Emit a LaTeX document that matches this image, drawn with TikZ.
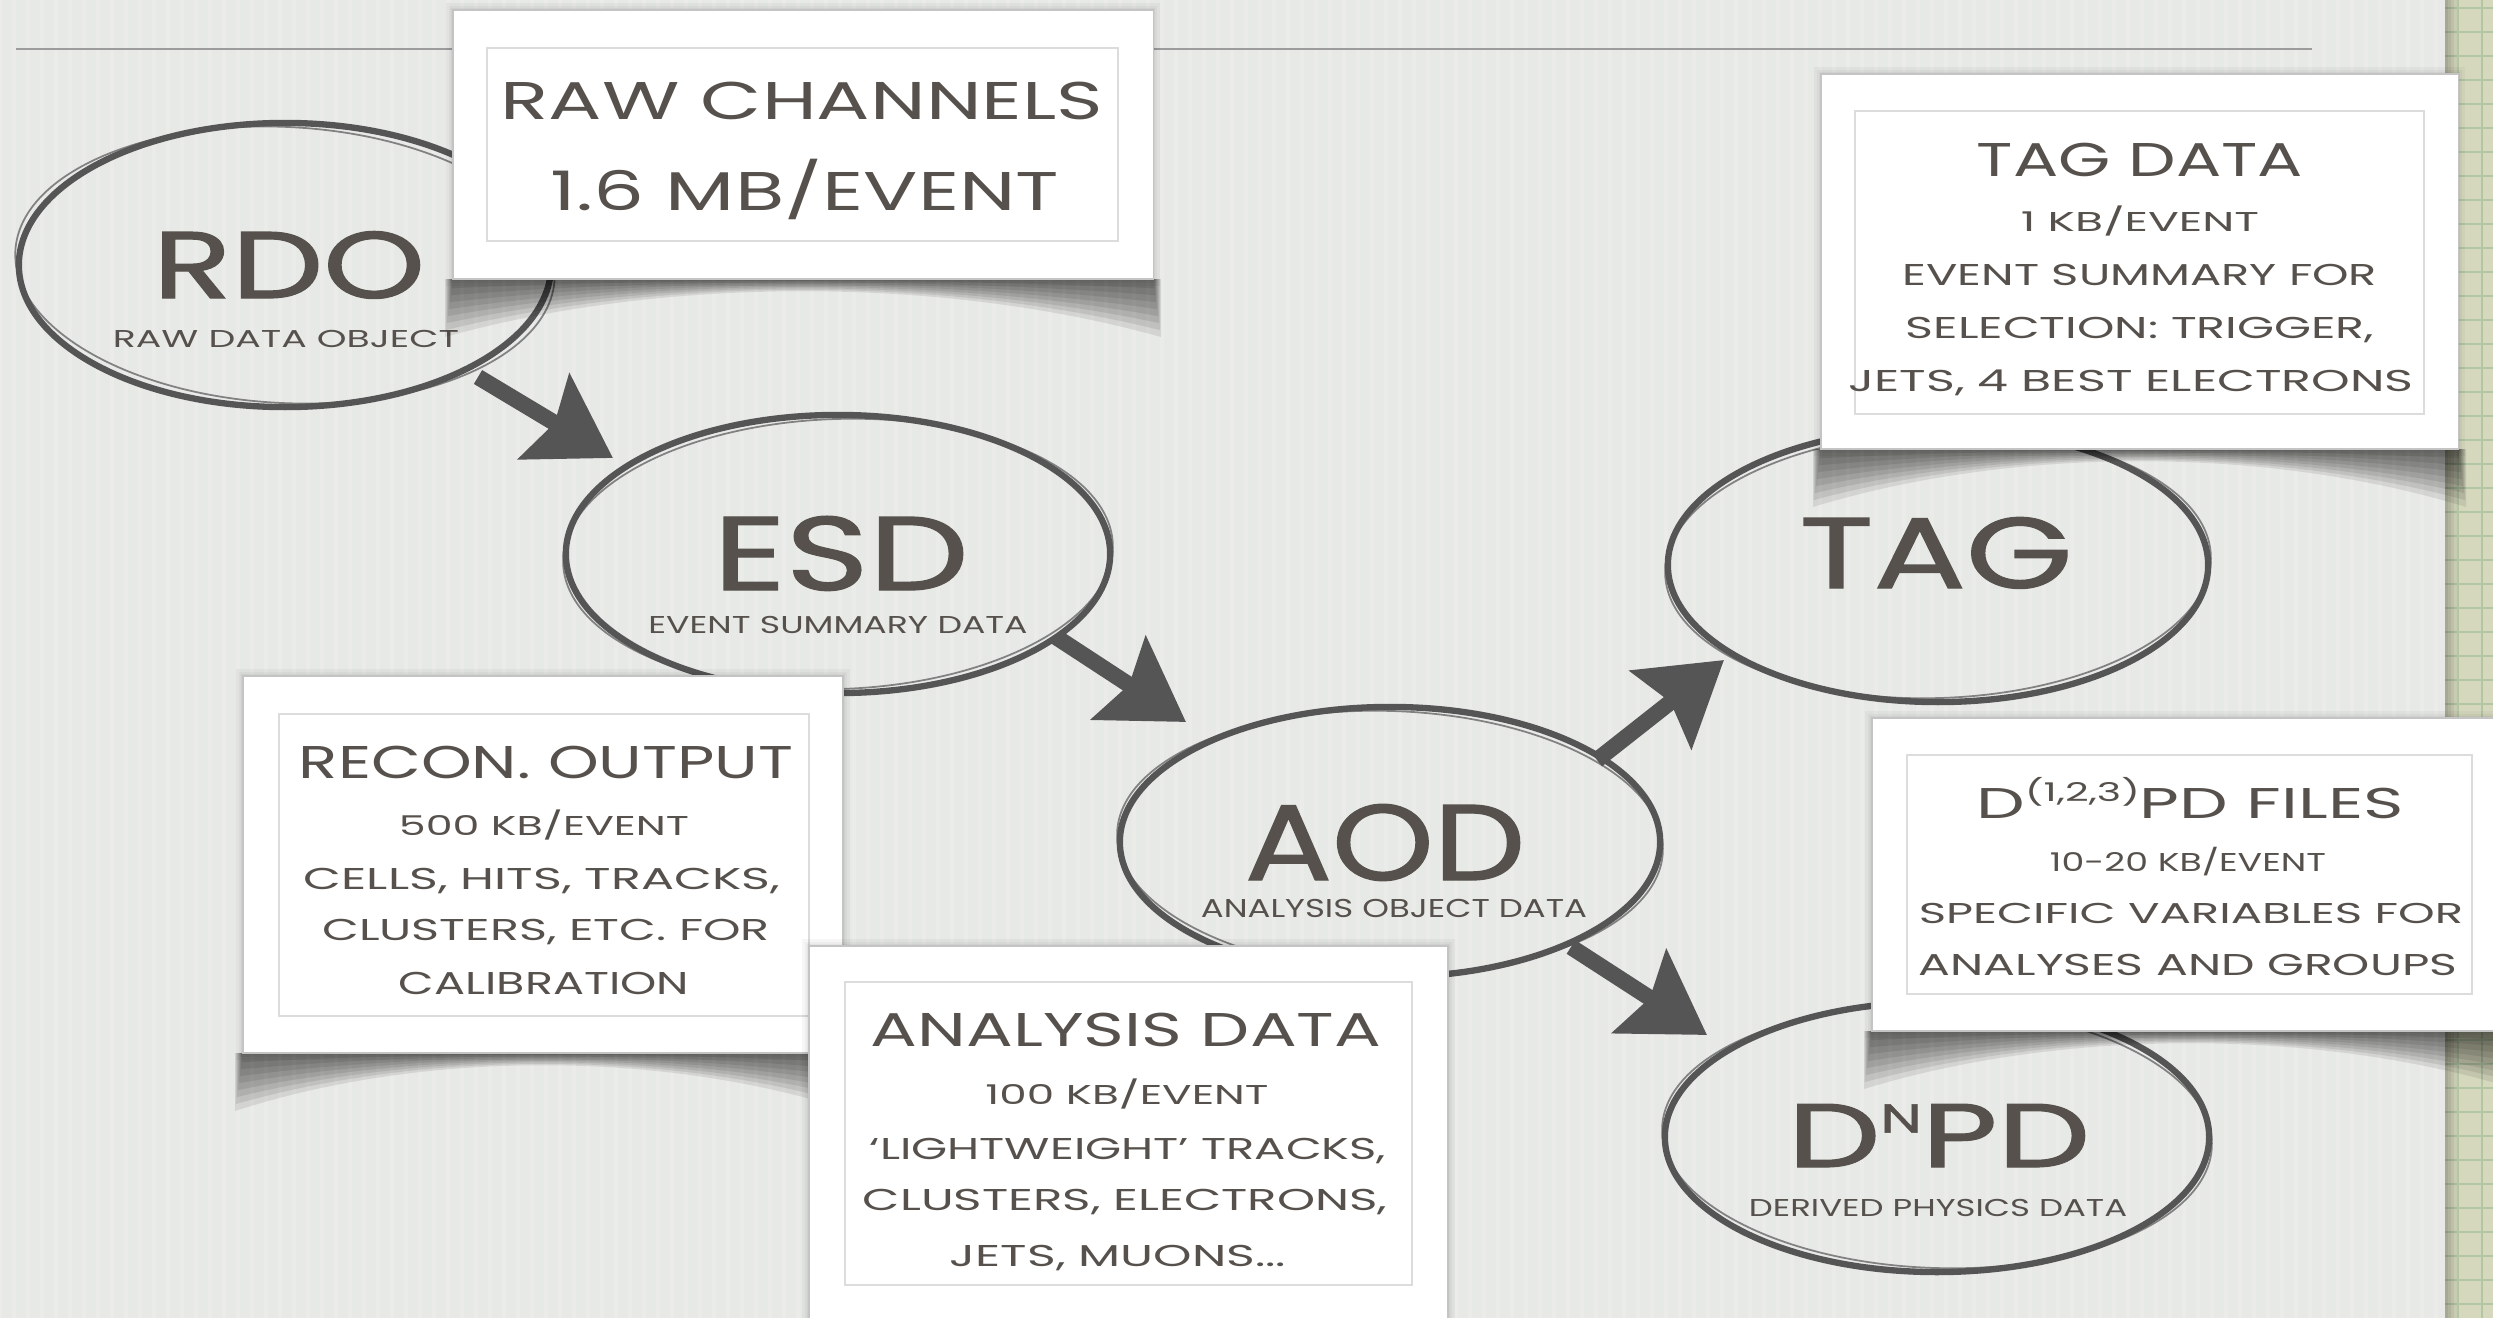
\documentclass[tikz,border=0pt]{standalone}
\usepackage{fontspec}
\setmainfont{Poppins}
\newfontfamily\heavy{Poppins}[FakeBold=1.2]
\usepackage{graphicx}
\usetikzlibrary{shapes.geometric,arrows.meta}

\definecolor{paper}{HTML}{E7E9E6}
\definecolor{ink}{HTML}{56514C}
\definecolor{brush}{HTML}{555555}
\definecolor{rulegray}{HTML}{9C9C9C}
\definecolor{gridpaper}{HTML}{D6D8BE}
\definecolor{gridline}{HTML}{B2C6A4}
\definecolor{cardedge}{HTML}{C4C4C4}
\definecolor{framegray}{HTML}{DCDCDC}

% scale a line of capitals to a given width and cap height (both in cm)
\newcommand\fitt[3]{\resizebox{#1cm}{#2cm}{\raisebox{0pt}[\fontcharht\font`\H][0pt]{#3}}}

% curled-paper shadow under a card: left, right, bottom
\newcommand\curl[3]{%
  \foreach \f in {1,0.88,0.76,0.64,0.52,0.4,0.28,0.16}{%
    \fill[black, opacity=0.085]
      ({#1-8*\f},#3) -- ({#1-8*\f},{#3+58*\f})
      .. controls ({#1+0.3*(#2-#1)},{#3-3*\f}) and ({#1+0.7*(#2-#1)},{#3-3*\f})
      .. ({#2+8*\f},{#3+58*\f}) -- ({#2+8*\f},#3) -- cycle;
  }}

% soft halo round a card: left, top, right, bottom
\newcommand\halo[4]{%
  \foreach \g in {2,4,7}{%
    \fill[black, opacity=0.035] ({#1-\g},{#2-\g}) rectangle ({#3+\g},{#4+\g});
  }}

\tikzset{
  card/.style={rectangle, fill=white, draw=cardedge, line width=0.4pt, inner sep=0pt},
  cardframe/.style={rectangle, draw=framegray, line width=0.6pt, inner sep=0pt},
  oval/.style={ellipse, draw=brush, line width=1.8pt, inner sep=0pt},
  sketch/.style={draw=brush, line width=0.5pt, opacity=0.7},
  txt/.style={anchor=base, inner sep=0pt, text=ink},
  title/.style={anchor=base, inner sep=0pt, text=ink, font=\heavy},
  flow/.style={draw=brush, line width=4.6pt, -{Stealth[length=0.8cm,width=0.98cm,inset=0.12cm]}},
}

\begin{document}
\begin{tikzpicture}[x=0.01cm, y=-0.01cm]
\useasboundingbox (0,0) rectangle (2493,1318);

% paper
\fill[paper] (0,0) rectangle (2493,1318);
\foreach \x in {0,14,...,2440}
  \draw[white, opacity=0.18, line width=1.2pt] (\x,0) -- (\x,1318);

% graph-paper strip on the right
\fill[gridpaper] (2445,0) rectangle (2493,1318);
\foreach \y in {8,32,...,1318}
  \draw[gridline, line width=0.5pt] (2445,\y) -- (2493,\y);
\foreach \x in {2458,2482}
  \draw[gridline, line width=0.5pt] (\x,0) -- (\x,1318);
\foreach \w in {3,6,9,12}
  \fill[black, opacity=0.06] (2445,0) rectangle ({2445+\w},1318);

% header rule
\draw[rulegray, line width=0.8pt] (16,49) -- (2312,49);

% data formats
\node[oval, minimum width=5.32cm, minimum height=2.84cm] (rdo) at (285,265) {};
\node[oval, minimum width=5.44cm, minimum height=2.78cm] (esd) at (838,554) {};
\node[oval, minimum width=5.40cm, minimum height=2.70cm] (aod) at (1390,842) {};
\node[oval, minimum width=5.40cm, minimum height=2.74cm] (tag) at (1938,565) {};
\node[oval, minimum width=5.44cm, minimum height=2.70cm] (dpd) at (1937,1137) {};
\draw[sketch, rotate around={-3:(rdo.center)}] (rdo.center) ellipse [x radius=270, y radius=138];
\draw[sketch, rotate around={2:(esd.center)}] (esd.center) ellipse [x radius=275, y radius=135];
\draw[sketch, rotate around={-2:(aod.center)}] (aod.center) ellipse [x radius=273, y radius=131];
\draw[sketch, rotate around={2:(tag.center)}] (tag.center) ellipse [x radius=273, y radius=133];
\draw[sketch, rotate around={-2:(dpd.center)}] (dpd.center) ellipse [x radius=275, y radius=131];

% processing arrows
\coordinate (a1s) at (478,377);  \coordinate (a1e) at (613,458);
\coordinate (a2s) at (1056,637); \coordinate (a2e) at (1186,722);
\coordinate (a3s) at (1597,760); \coordinate (a3e) at (1724,660);
\coordinate (a4s) at (1571,947); \coordinate (a4e) at (1707,1035);
\draw[flow] (a1s) -- (a1e);
\draw[flow] (a2s) -- (a2e);
\draw[flow] (a3s) -- (a3e);
\draw[flow] (a4s) -- (a4e);

% titles inside the ovals
\node[title] (rdoT) at (289,298) {\fitt{2.72}{0.66}{RDO}};
\node[txt]   (rdoL) at (286,347) {\fitt{3.46}{0.17}{RAW DATA OBJECT}};

\node[title] (esdT) at (841,590) {\fitt{2.55}{0.73}{ESD}};
\node[txt]   (esdL) at (838,633) {\fitt{3.79}{0.17}{EVENT SUMMARY DATA}};

\node[title] (aodT) at (1385,880) {\fitt{2.80}{0.75}{AOD}};
\node[txt]   (aodL) at (1394,917) {\fitt{3.86}{0.18}{ANALYSIS OBJECT DATA}};

\node[title] (tagT) at (1936,588) {\fitt{2.73}{0.70}{TAG}};

\node[title] (dpdT) at (1939,1167) {\fitt{3.02}{0.63}{D\raisebox{0.38em}{\scalebox{0.45}{N}}PD}};
\node[txt]   (dpdL) at (1938,1216) {\fitt{3.78}{0.17}{DERIVED PHYSICS DATA}};

% raw channels card
\curl{453}{1153}{279}
\halo{453}{10}{1153}{279}
\node[card, minimum width=7.00cm, minimum height=2.69cm] (rawC) at (803,144.5) {};
\node[cardframe, minimum width=6.31cm, minimum height=1.93cm] (rawF) at (802.5,144.5) {};
\node[txt] (raw1) at (802,119) {\fitt{6.02}{0.37}{RAW CHANNELS}};
\node[txt] (raw2) at (805,210) {\fitt{5.08}{0.38}{1.6 MB/EVENT}};

% reconstruction output card
\curl{243}{843}{1053}
\halo{243}{676}{843}{1053}
\node[card, minimum width=6.00cm, minimum height=3.77cm] (recC) at (543,864.5) {};
\node[cardframe, minimum width=5.30cm, minimum height=3.02cm] (recF) at (544,865) {};
\node[txt] (rec1) at (546,778) {\fitt{4.94}{0.32}{RECON. OUTPUT}};
\node[txt] (rec2) at (544,835) {\fitt{2.90}{0.19}{500 KB/EVENT}};
\node[txt] (rec3) at (542,889) {\fitt{4.76}{0.21}{CELLS, HITS, TRACKS,}};
\node[txt] (rec4) at (546,940) {\fitt{4.47}{0.21}{CLUSTERS, ETC. FOR}};
\node[txt] (rec5) at (544,994) {\fitt{2.90}{0.22}{CALIBRATION}};

% analysis data card
\halo{809}{946}{1448}{1340}
\node[card, minimum width=6.39cm, minimum height=3.84cm] (anaC) at (1128.5,1138) {};
\node[cardframe, minimum width=5.67cm, minimum height=3.03cm] (anaF) at (1128.5,1133.5) {};
\node[txt] (ana1) at (1126,1046) {\fitt{5.10}{0.33}{ANALYSIS DATA}};
\node[txt] (ana2) at (1127,1104) {\fitt{2.83}{0.19}{100 KB/EVENT}};
\node[txt] (ana3) at (1128,1159) {\fitt{5.16}{0.21}{‘LIGHTWEIGHT’ TRACKS,}};
\node[txt] (ana4) at (1125,1210) {\fitt{5.24}{0.21}{CLUSTERS, ELECTRONS,}};
\node[txt] (ana5) at (1118,1266) {\fitt{3.36}{0.21}{JETS, MUONS...}};

% tag data card
\curl{1821}{2458}{449}
\halo{1821}{74}{2458}{449}
\node[card, minimum width=6.37cm, minimum height=3.75cm] (tagC) at (2139.5,261.5) {};
\node[cardframe, minimum width=5.69cm, minimum height=3.03cm] (tagF) at (2139.5,262.5) {};
\node[txt] (tag1) at (2140,176) {\fitt{3.26}{0.33}{TAG DATA}};
\node[txt] (tag2) at (2140,231) {\fitt{2.38}{0.19}{1 KB/EVENT}};
\node[txt] (tag3) at (2140,285) {\fitt{4.74}{0.21}{EVENT SUMMARY FOR}};
\node[txt] (tag4) at (2140,338) {\fitt{4.68}{0.21}{SELECTION: TRIGGER,}};
\node[txt] (tag5) at (2131,391) {\fitt{5.65}{0.21}{JETS, 4 BEST ELECTRONS}};

% derived physics data card
\curl{1872}{2508}{1031}
\halo{1872}{718}{2508}{1031}
\node[card, minimum width=6.36cm, minimum height=3.13cm] (dpdC) at (2190,874.5) {};
\node[cardframe, minimum width=5.65cm, minimum height=2.39cm] (dpdF) at (2189.5,874.5) {};
\node[txt] (dpd1) at (2190,818) {\fitt{4.27}{0.30}{D\raisebox{0.38em}{\scalebox{0.6}{(1,2,3)}}PD FILES}};
\node[txt] (dpd2) at (2188,871) {\fitt{2.76}{0.18}{10-20 KB/EVENT}};
\node[txt] (dpd3) at (2191,923) {\fitt{5.44}{0.20}{SPECIFIC VARIABLES FOR}};
\node[txt] (dpd4) at (2188,975) {\fitt{5.38}{0.21}{ANALYSES AND GROUPS}};
\end{tikzpicture}
\end{document}
